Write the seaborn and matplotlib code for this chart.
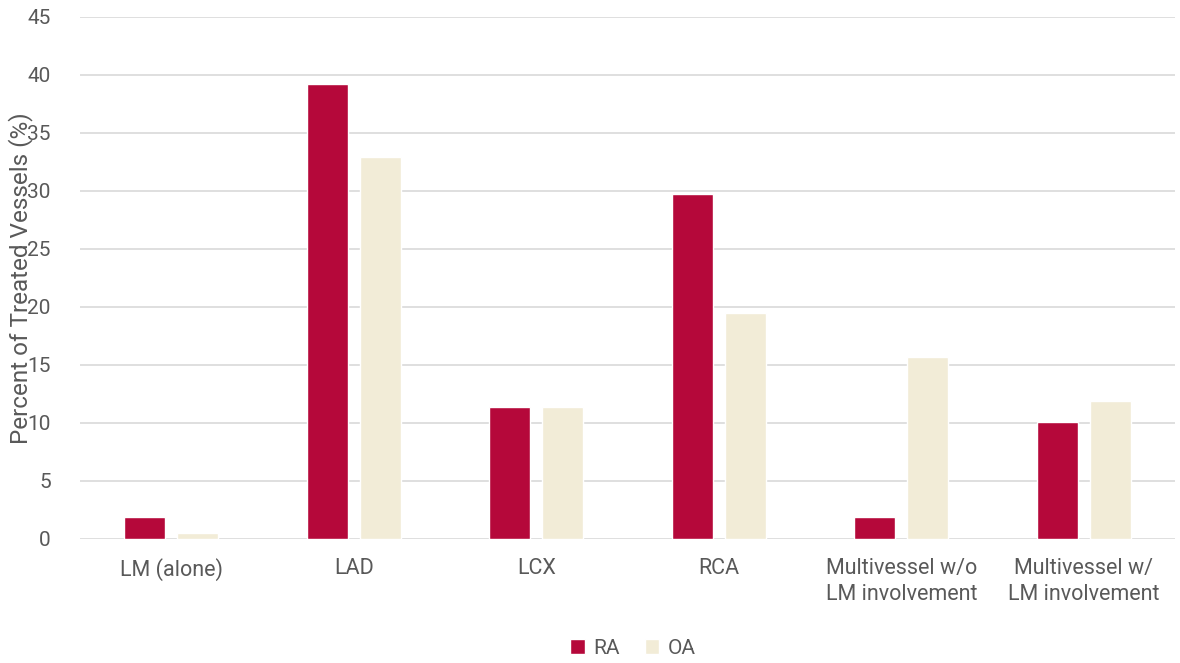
import pandas as pd
import seaborn as sns
import matplotlib.pyplot as plt
from matplotlib.patches import Patch

# ==============================
# Data
# ==============================
categories = ["LM (alone)", "LAD", "LCX", "RCA",
              "Multivessel w/o\nLM involvement", "Multivessel w/\nLM involvement"]
ra_values = [1.9, 39.2, 11.4, 29.7, 1.9, 10.1]
oa_values = [0.5, 32.9, 11.4, 19.5, 15.7, 11.9]
groups = ["RA", "OA"]

df = pd.DataFrame({
    "vessel": categories * 2,
    "group": ["RA"] * len(categories) + ["OA"] * len(categories),
    "pct": ra_values + oa_values,
})

colors = {"RA": "#B5083A", "OA": "#F2ECD7"}
text_color = "#595959"

# ==============================
# Plot
# ==============================
sns.set_style("white")
plt.rcParams["font.family"] = ["Roboto", "DejaVu Sans"]

fig = plt.figure(figsize=(11.8, 6.63), dpi=100)
ax = fig.add_axes([80 / 1180, 1 - 539 / 663, 1095 / 1180, 522 / 663])

sns.barplot(data=df, x="vessel", y="pct", hue="group", hue_order=groups,
            palette=colors, width=0.58, gap=0.23, saturation=1,
            legend=False, ax=ax)

ax.set_ylim(0, 45)
ax.set_yticks(range(0, 50, 5))
ax.set_xlim(-0.5, len(categories) - 0.5)
ax.yaxis.grid(True, color="#D9D9D9", lw=1.2)
ax.set_axisbelow(True)
for s in ax.spines.values():
    s.set_visible(False)

ax.tick_params(axis="y", length=0, pad=21, labelsize=15, labelcolor=text_color)
ax.tick_params(axis="x", length=0, pad=14, labelsize=15.5, labelcolor=text_color)
for lbl in ax.get_xticklabels():
    lbl.set_linespacing(1.3)
ax.set_xlabel("")
# the axis title sits over the tick labels, as in the original
ax.set_ylabel("Percent of Treated Vessels (%)", fontsize=17.5, color=text_color)
ax.yaxis.set_label_coords(-0.043, 0.5)

handles = [Patch(facecolor=colors[g], label=g) for g in groups]
fig.legend(handles=handles, loc="center", bbox_to_anchor=(633 / 1180, 1 - 648 / 663),
           ncol=2, frameon=False, fontsize=15, labelcolor=text_color,
           handlelength=0.7, handleheight=0.7, handletextpad=0.4, columnspacing=1.2)

plt.savefig("out.png", dpi=100)
